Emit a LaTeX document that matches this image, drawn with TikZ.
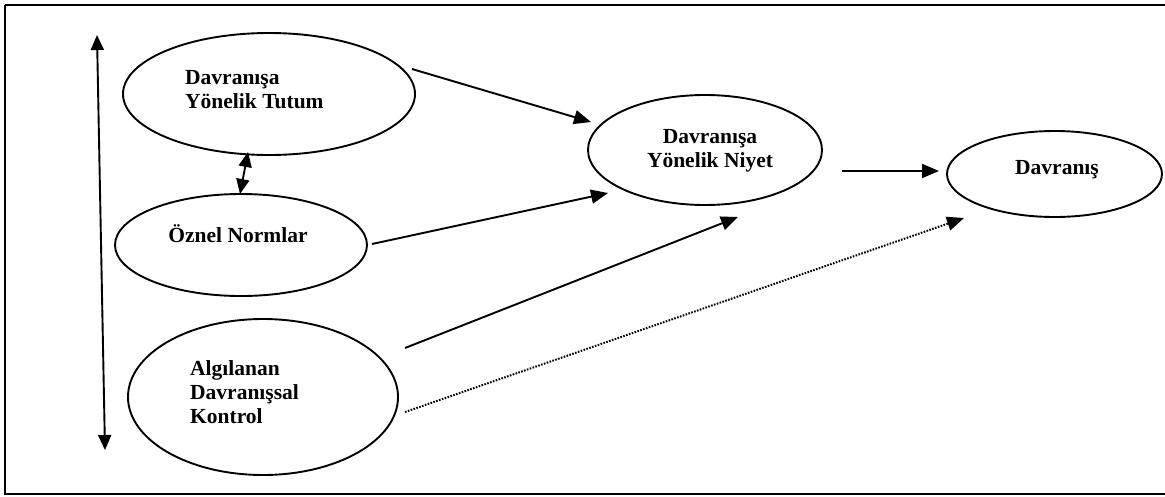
\documentclass[tikz,border=0pt]{standalone}
\usepackage{fontspec}
\setmainfont{Liberation Serif}
\usetikzlibrary{shapes.geometric,arrows.meta}
\begin{document}
\begin{tikzpicture}[x=1pt,y=-1pt,
  oval/.style={draw,ellipse,line width=1.9pt,inner sep=0pt},
  label/.style={inner sep=0pt,font=\bfseries\fontsize{21.5}{24}\selectfont},
  link/.style={line width=1.9pt,-{Triangle[length=17pt,width=14pt]}},
  dotlink/.style={line width=2pt,dash pattern=on 1.6pt off 1.4pt,-{Triangle[length=17pt,width=14pt]}},
  both/.style={line width=1.9pt,{Triangle[length=15pt,width=13pt]}-{Triangle[length=15pt,width=13pt]}}]
\useasboundingbox (0,0) rectangle (1165,496);
% outer frame (its right side runs past the page edge)
\draw[line width=2.2pt] (5,5) -- (1180,5) (5,5) -- (5,494) -- (1180,494);

% ovals
\node[oval,minimum width=292pt,minimum height=122pt] (tutum) at (269,94) {};
\node[oval,minimum width=252pt,minimum height=102pt] (norm) at (241,245) {};
\node[oval,minimum width=270pt,minimum height=156pt] (kontrol) at (263,397) {};
\node[oval,minimum width=234pt,minimum height=110pt] (niyet) at (705,150) {};
\node[oval,minimum width=215pt,minimum height=86pt] (davranis) at (1054.5,174) {};

% texts
\node[label,align=left,anchor=north west] (tutumT) at (185,70) {Davranışa\\Yönelik Tutum};
\node[label,anchor=base] (normT) at (238,242) {Öznel Normlar};
\node[label,align=left,anchor=north west] (kontrolT) at (190,360) {Algılanan\\Davranışsal\\Kontrol};
\node[label,align=center,anchor=north] (niyetT) at (710,129) {Davranışa\\Yönelik Niyet};
\node[label,anchor=base] (davranisT) at (1057,174) {Davranış};

% connector ends
\coordinate (vTop) at (97,35);
\coordinate (vBot) at (105,450);
\coordinate (tnA) at (248,152);
\coordinate (tnB) at (240,194);
\coordinate (t1) at (412,69);
\coordinate (t2) at (591,122);
\coordinate (n1) at (372,244);
\coordinate (n2) at (608,193);
\coordinate (k1) at (405,348);
\coordinate (k2) at (738,217);
\coordinate (y1) at (842,171);
\coordinate (y2) at (939,171);
\coordinate (d1) at (405,412);
\coordinate (d2) at (964,218);

% connectors
\draw[both] (vTop) -- (vBot);
\draw[both] (tnA) -- (tnB);
\draw[link] (t1) -- (t2);
\draw[link] (n1) -- (n2);
\draw[link] (k1) -- (k2);
\draw[link] (y1) -- (y2);
\draw[dotlink] (d1) -- (d2);
\end{tikzpicture}
\end{document}
